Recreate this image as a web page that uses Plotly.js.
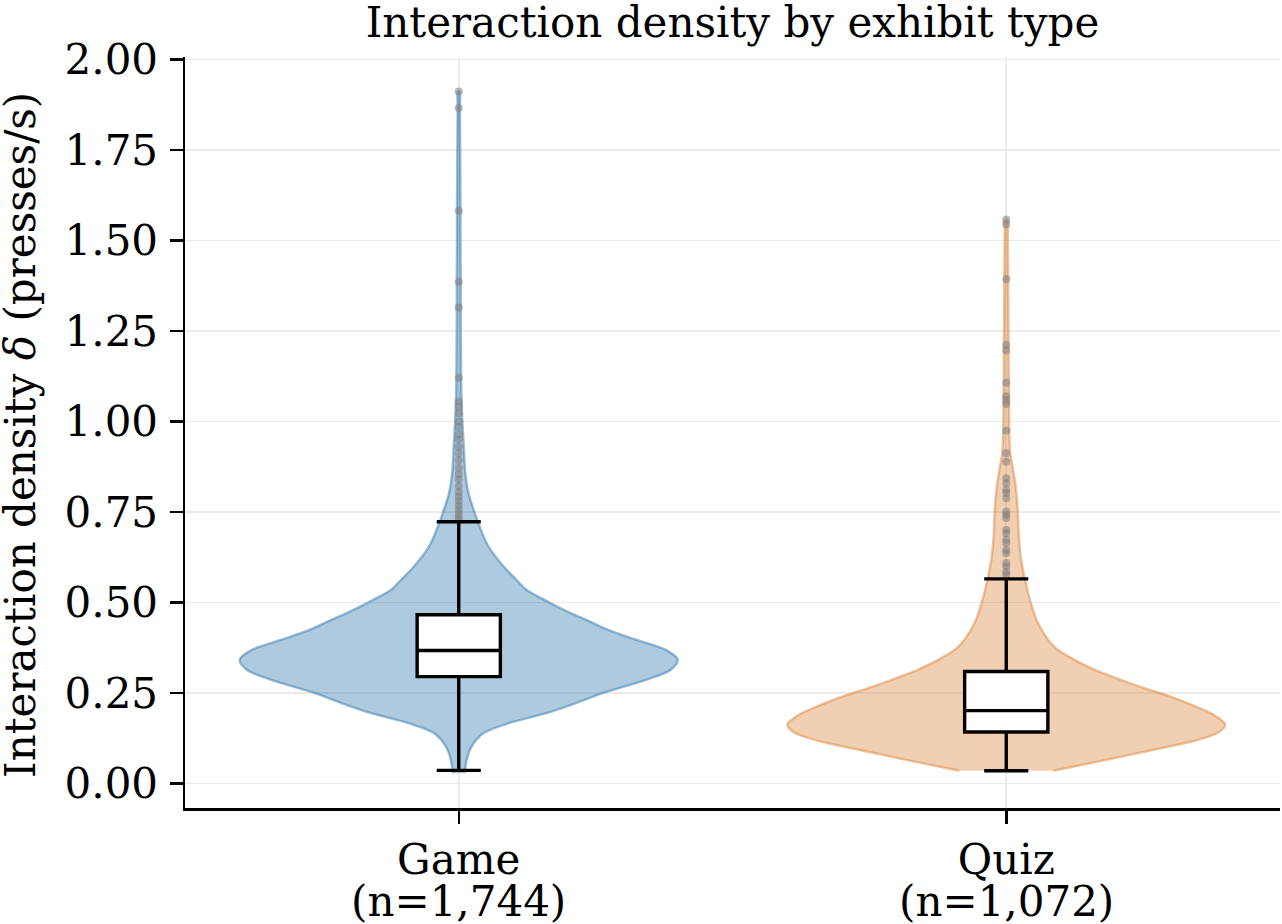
<!DOCTYPE html>
<html>
<head>
<meta charset="utf-8">
<script src="https://cdn.plot.ly/plotly-3.0.1.min.js"></script>
<style>
  html, body { margin: 0; padding: 0; background: #fff; }
  #chart { width: 1282px; height: 924px; }
</style>
</head>
<body>
<div id="chart"></div>
<script>
// Exhibit categories and sample counts
const categories = ["Game", "Quiz"];
const counts = ["1,744", "1,072"];

// Box summary (presses/s)
const q1 = [0.295, 0.142];
const medians = [0.367, 0.201];
const q3 = [0.466, 0.309];
const lowerWhisker = [0.036, 0.035];
const upperWhisker = [0.723, 0.565];

// Kernel density profiles: level (presses/s) and relative density (peak = 1)
const gameLevels = [0.028, 0.065, 0.102, 0.139, 0.167, 0.194, 0.222, 0.250, 0.286, 0.314, 0.342, 0.369, 0.397, 0.424, 0.452, 0.471, 0.507, 0.535, 0.562, 0.599, 0.654, 0.710, 0.747, 0.800, 0.857, 0.930, 1.020, 1.110, 1.200, 1.300, 1.400, 1.500, 1.600, 1.700, 1.800, 1.870, 1.912];
const gameDensity = [0.027, 0.036, 0.059, 0.114, 0.232, 0.400, 0.536, 0.659, 0.855, 0.968, 1.000, 0.945, 0.809, 0.682, 0.582, 0.509, 0.391, 0.309, 0.264, 0.205, 0.136, 0.095, 0.073, 0.045, 0.030, 0.023, 0.015, 0.011, 0.010, 0.009, 0.009, 0.008, 0.008, 0.007, 0.006, 0.005, 0.004];

const quizLevels = [0.035, 0.060, 0.093, 0.115, 0.139, 0.162, 0.190, 0.215, 0.240, 0.262, 0.286, 0.315, 0.342, 0.378, 0.443, 0.526, 0.618, 0.690, 0.760, 0.820, 0.870, 0.913, 0.968, 1.060, 1.150, 1.250, 1.350, 1.450, 1.520, 1.558];
const quizDensity = [0.214, 0.418, 0.673, 0.841, 0.964, 1.000, 0.945, 0.855, 0.750, 0.636, 0.523, 0.400, 0.309, 0.218, 0.145, 0.100, 0.068, 0.057, 0.052, 0.043, 0.030, 0.018, 0.014, 0.012, 0.011, 0.010, 0.009, 0.008, 0.007, 0.005];

// Points beyond the whiskers
const gameOutliers = [1.912, 1.866, 1.582, 1.386, 1.315, 1.121, 1.055, 1.041, 1.023, 1.000, 0.985, 0.965, 0.950, 0.930, 0.912, 0.893, 0.872, 0.855, 0.840, 0.822, 0.805, 0.792, 0.780, 0.768, 0.757, 0.746, 0.737, 0.728];
const quizOutliers = [1.558, 1.545, 1.393, 1.211, 1.197, 1.107, 1.070, 1.059, 1.048, 0.974, 0.912, 0.889, 0.843, 0.829, 0.811, 0.802, 0.788, 0.751, 0.742, 0.733, 0.700, 0.691, 0.673, 0.664, 0.645, 0.636, 0.609, 0.599, 0.585, 0.576];

const levels = [gameLevels, quizLevels];
const densities = [gameDensity, quizDensity];
const outliers = [gameOutliers, quizOutliers];

const fills = ["rgba(53,123,175,0.40)", "rgba(220,135,63,0.40)"];
const edges = ["rgba(53,123,175,0.50)", "rgba(220,135,63,0.50)"];
const halfWidth = 0.4;
const font = "DejaVu Serif, serif";
const fontSize = 42;

const traces = [];

// Violin bodies: right edge upward, left edge back down
categories.forEach((c, i) => {
  const lv = levels[i], d = densities[i];
  const xs = [], ys = [];
  for (let k = 0; k < lv.length; k++) { xs.push(i + halfWidth * d[k]); ys.push(lv[k]); }
  for (let k = lv.length - 1; k >= 0; k--) { xs.push(i - halfWidth * d[k]); ys.push(lv[k]); }
  traces.push({
    type: "scatter", mode: "lines", x: xs, y: ys,
    fill: "toself", fillcolor: fills[i],
    line: { color: edges[i], width: 2.4, shape: "spline", smoothing: 0.9 },
    hoverinfo: "skip", showlegend: false
  });
});

// Outlier dots
categories.forEach((c, i) => {
  traces.push({
    type: "scatter", mode: "markers",
    x: outliers[i].map(() => i), y: outliers[i],
    marker: { size: 8, color: "rgba(128,128,128,0.55)", line: { width: 0 } },
    hoverinfo: "y", showlegend: false
  });
});

// Boxes on an overlaid axis pair so they sit above the violins
categories.forEach((c, i) => {
  traces.push({
    type: "box", xaxis: "x2", yaxis: "y2",
    x: [i], q1: [q1[i]], median: [medians[i]], q3: [q3[i]],
    lowerfence: [lowerWhisker[i]], upperfence: [upperWhisker[i]],
    width: 0.152, whiskerwidth: 0.53,
    fillcolor: "#ffffff", line: { color: "#000000", width: 3.4 },
    boxpoints: false, hoverinfo: "skip", showlegend: false
  });
});

const xRange = [-0.5, 1.5];
const yRange = [-0.068, 2.007];

// Sample counts shown as a second line under each category label
const annotations = categories.map((c, i) => ({
  text: "(n=" + counts[i] + ")",
  x: i, xref: "x", y: -0.125, yref: "paper",
  xanchor: "center", yanchor: "middle", showarrow: false,
  font: { family: font, size: fontSize, color: "#000000" }
}));

// Vertical axis title
annotations.push({
  text: "Interaction density <i>δ</i> (presses/s)",
  x: -0.1498, xref: "paper", y: 0.4967, yref: "paper",
  xanchor: "center", yanchor: "middle", textangle: -90, showarrow: false,
  font: { family: font, size: fontSize, color: "#000000" }
});

const layout = {
  width: 1282, height: 924,
  margin: { l: 185, r: 2, t: 57, b: 116 },
  paper_bgcolor: "#ffffff", plot_bgcolor: "#ffffff",
  font: { family: font, size: fontSize, color: "#000000" },
  title: {
    text: "Interaction density by exhibit type",
    font: { family: font, size: fontSize, color: "#000000" },
    x: 0.5, xref: "paper", xanchor: "center",
    y: 1 - 22 / 924, yref: "container", yanchor: "middle"
  },
  xaxis: {
    range: xRange, tickmode: "array", tickvals: [0, 1],
    ticktext: categories,
    showgrid: true, gridcolor: "#ebebeb", gridwidth: 1.6,
    zeroline: false, showline: true, linecolor: "#000000", linewidth: 2.5,
    ticks: "outside", ticklen: 13, tickwidth: 2.5, tickcolor: "#000000",
    tickfont: { family: font, size: fontSize, color: "#000000" }
  },
  yaxis: {
    range: yRange, tickmode: "array",
    tickvals: [0, 0.25, 0.5, 0.75, 1.0, 1.25, 1.5, 1.75, 2.0],
    tickformat: ".2f",
    showgrid: true, gridcolor: "#ebebeb", gridwidth: 1.6,
    zeroline: false, showline: true, linecolor: "#000000", linewidth: 2.5,
    ticks: "outside", ticklen: 13, tickwidth: 2.5, tickcolor: "#000000",
    ticklabelstandoff: 3,
    tickfont: { family: font, size: fontSize, color: "#000000" }
  },
  xaxis2: { range: xRange, overlaying: "x", visible: false },
  yaxis2: { range: yRange, overlaying: "y", visible: false },
  annotations: annotations,
  showlegend: false
};

Plotly.newPlot("chart", traces, layout, { displayModeBar: false, staticPlot: true });
</script>
</body>
</html>
